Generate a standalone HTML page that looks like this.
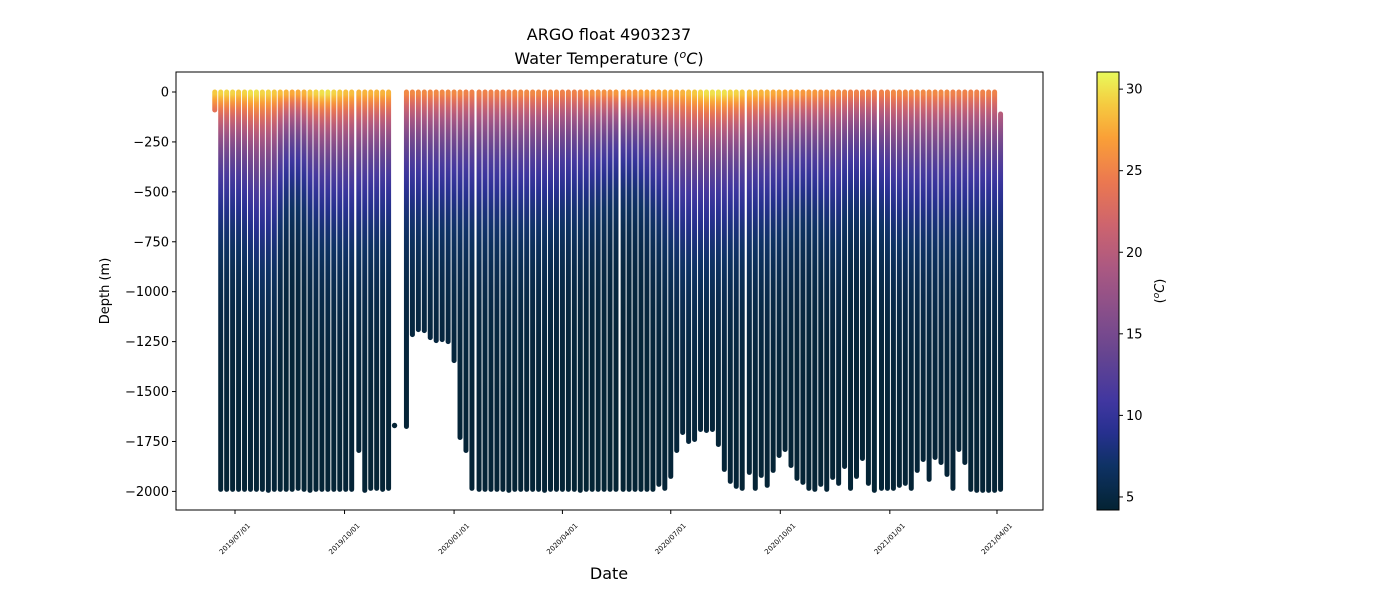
<!DOCTYPE html>
<html><head><meta charset="utf-8"><style>
html,body{margin:0;padding:0;background:#fff;}
svg{display:block;font-family:"DejaVu Sans","Liberation Sans",sans-serif;}
</style></head><body>
<svg id="chart" width="1400" height="600" viewBox="0 0 1400 600" xmlns="http://www.w3.org/2000/svg">
<defs id="defs"><clipPath id="clip"><rect x="176" y="72" width="867" height="438"/></clipPath></defs>
<text x="609" y="40" text-anchor="middle" font-size="16" fill="#000">ARGO float 4903237</text>
<text x="609" y="64" text-anchor="middle" font-size="16" fill="#000">Water Temperature (<tspan font-size="11" dy="-6" font-style="italic">o</tspan><tspan dy="6" font-style="italic">C</tspan>)</text>
<g id="plot" clip-path="url(#clip)"></g>
<g id="axes"></g>
<text transform="translate(109,291) rotate(-90)" text-anchor="middle" font-size="13" fill="#000">Depth (m)</text>
<text x="609" y="579" text-anchor="middle" font-size="16" fill="#000">Date</text>
<g id="cbar"></g>
<text transform="translate(1164,291) rotate(-90)" text-anchor="middle" font-size="13" fill="#000">(<tspan font-style="italic" font-size="9" dy="-5">o</tspan><tspan font-style="italic" dy="5">C</tspan>)</text>
</svg>
<script>
// ---- data (days since 2019-07-01) ----
const profileDays = [
-17,-12,-7,-2,3,8,13,18,23,28,
33,38,43,48,53,58,63,68,73,78,
83,88,93,98,104,109,114,119,124,129,
134,
144,149,154,159,164,169,174,179,184,189,
194,199,205,210,215,220,225,230,235,240,
245,250,255,260,265,270,275,280,285,290,
295,300,305,310,315,320,326,331,336,341,
346,351,356,361,366,371,376,381,386,391,
396,401,406,411,416,421,426,432,437,442,
447,452,457,462,467,472,477,482,487,492,
497,502,507,512,517,522,527,532,537,543,
548,553,558,563,568,573,578,583,588,593,
598,603,608,613,618,623,628,633,638,643];
const topDepths = [
0,0,0,0,0,0,0,0,0,0,
0,0,0,0,0,0,0,0,0,0,
0,0,0,0,0,0,0,0,0,0,
-1670,
0,0,0,0,0,0,0,0,0,0,
0,0,0,0,0,0,0,0,0,0,
0,0,0,0,0,0,0,0,0,0,
0,0,0,0,0,0,0,0,0,0,
0,0,0,0,0,0,0,0,0,0,
0,0,0,0,0,0,0,0,0,0,
0,0,0,0,0,0,0,0,0,0,
0,0,0,0,0,0,0,0,0,0,
0,0,0,0,0,0,0,0,0,0,
0,0,0,0,0,0,0,0,0,-110];
const maxDepths = [
-90,-1990,-1990,-1990,-1990,-1990,-1990,-1990,-1990,-1995,
-1990,-1990,-1990,-1990,-1985,-1990,-1995,-1990,-1990,-1990,
-1990,-1990,-1990,-1990,-1795,-1995,-1985,-1985,-1990,-1985,
-1670,
-1675,-1215,-1190,-1195,-1230,-1245,-1240,-1250,-1345,-1730,
-1795,-1985,-1990,-1990,-1990,-1990,-1990,-1995,-1990,-1990,
-1990,-1990,-1990,-1995,-1990,-1990,-1990,-1990,-1990,-1995,
-1990,-1990,-1990,-1990,-1990,-1990,-1990,-1990,-1990,-1990,
-1990,-1990,-1965,-1985,-1925,-1795,-1705,-1750,-1740,-1690,
-1695,-1690,-1765,-1890,-1950,-1975,-1985,-1905,-1985,-1920,
-1970,-1895,-1820,-1790,-1870,-1935,-1955,-1985,-1990,-1965,
-1990,-1930,-1960,-1875,-1985,-1925,-1835,-1960,-1995,-1985,
-1985,-1985,-1970,-1960,-1985,-1895,-1840,-1940,-1830,-1855,
-1915,-1985,-1790,-1855,-1990,-1995,-1995,-1995,-1995,-1990];
const surfaceTemps = [
29,29.5,29.5,29.5,29,29.5,30,30,29.5,29.5,
29,28.5,28,27.5,27.5,28,29,29.5,30,30,
29.5,29,28.5,28.5,28,28,28,28,28,28,
5,
25.5,25.5,25.5,25.5,25.5,25.5,25.5,25.5,25.5,25.5,
25,25,25,25,25,25,25,25,25.5,25.5,
25.5,25.5,25.5,25.5,25.5,25.5,25,25,25,25,
26,26,26,26,26,26.5,26.5,26.5,26.5,27,
27,27,27,27.5,27.5,27.5,28,28.5,29,29.5,
30,30,30,30,29.5,29.5,29,28.5,28.5,28,
28,27.5,27.5,27,27,27,26.5,26.5,26.5,26,
26,26,25.5,25.5,25,25,25,25,25,25,
25,25.5,25.5,25.5,25.5,25.5,25.5,25.5,25.5,25.5,
25.5,25,25,25,25,25,25,25,25,25];
const decayDepths = [
330,330,330,330,340,350,380,400,400,390,
380,310,270,260,260,280,310,320,330,330,
340,350,360,360,350,350,340,340,340,340,
300,
330,330,330,330,330,330,330,330,330,330,
340,340,340,340,340,340,340,340,340,340,
340,330,330,330,330,320,320,310,310,310,
300,290,280,270,260,250,250,250,250,260,
280,300,320,340,360,380,390,390,390,380,
380,370,360,360,350,350,350,350,340,340,
340,330,330,320,310,300,300,300,310,320,
330,340,350,300,300,300,300,300,300,320,
340,360,360,360,360,360,360,360,360,360,
360,360,360,360,360,360,360,360,360,360];
const yTicks = [0,-250,-500,-750,-1000,-1250,-1500,-1750,-2000];
const xTickDays = [0,92,184,275,366,458,550,640];
const xTickLabels = ["2019/07/01","2019/10/01","2020/01/01","2020/04/01","2020/07/01","2020/10/01","2021/01/01","2021/04/01"];
const cbarTicks = [5,10,15,20,25,30];

// ---- scales ----
const PX0=176, PX1=1043, PY0=72, PY1=510;
const X = d => 235 + d*1.1906;
const Y = z => 92 - z*0.1997;
const TMIN=4.2, TMAX=31.05;
const stops=[[0,4,35,51],[0.1,14,50,100],[0.18,40,48,145],[0.25,65,55,160],[0.35,100,68,145],[0.45,135,78,138],[0.55,170,88,130],[0.65,205,100,110],[0.75,235,120,80],[0.85,250,160,55],[0.93,245,205,65],[1,232,250,91]];
function cmap(t){
  let f=(t-TMIN)/(TMAX-TMIN); if(!isFinite(f)) f=0; f=Math.max(0,Math.min(1,f));
  for(let i=1;i<stops.length;i++){ if(f<=stops[i][0]){ const a=stops[i-1],b=stops[i],u=(f-a[0])/(b[0]-a[0]);
    return `rgb(${Math.round(a[1]+u*(b[1]-a[1]))},${Math.round(a[2]+u*(b[2]-a[2]))},${Math.round(a[3]+u*(b[3]-a[3]))})`; } }
  return 'rgb(232,250,91)';
}
function tempAt(i,z){ const d=Math.max(0,-z-10); return 4.3+(surfaceTemps[i]-4.3)*Math.exp(-d/decayDepths[i]); }

const NS='http://www.w3.org/2000/svg';
function mk(tag,attrs,parent){ const e=document.createElementNS(NS,tag); for(const k in attrs) e.setAttribute(k,attrs[k]); parent.appendChild(e); return e; }
const defs=document.getElementById('defs'), plot=document.getElementById('plot'), axes=document.getElementById('axes'), cbar=document.getElementById('cbar');

// profiles
for(let i=0;i<profileDays.length;i++){
  const x=X(profileDays[i]), y0=Y(topDepths[i]), y1=Y(maxDepths[i]);
  if(Math.abs(y1-y0)<1){
    const c=mk('circle',{cx:x,cy:y0,r:2.7,fill:cmap(tempAt(i,maxDepths[i]))},plot);
    
    
    continue;
  }
  const g=mk('linearGradient',{id:'g'+i,gradientUnits:'userSpaceOnUse',x1:x,y1:y0,x2:x,y2:y1},defs);
  const n=24;
  for(let k=0;k<=n;k++){
    const fz=(k/n)*(k/n);
    const z=topDepths[i]+(maxDepths[i]-topDepths[i])*fz;
    mk('stop',{offset:fz,'stop-color':cmap(tempAt(i,z))},g);
  }
  const l=mk('line',{x1:x,y1:y0,x2:x,y2:y1,stroke:`url(#g${i})`,'stroke-width':5,'stroke-linecap':'round'},plot);
  
  
}

// frame
const fr=mk('rect',{x:PX0,y:PY0,width:PX1-PX0,height:PY1-PY0,fill:'none',stroke:'#000','stroke-width':1},axes);


yTicks.forEach(v=>{
  const y=Y(v);
  mk('line',{x1:PX0-4,y1:y,x2:PX0,y2:y,stroke:'#000'},axes);
  const t=mk('text',{x:PX0-7,y:y+4.5,'text-anchor':'end','font-size':13,fill:'#000'},axes);
  t.textContent=(v<0?'\u2212'+(-v):String(v));
  
  
});
xTickDays.forEach((d,i)=>{
  const x=X(d);
  mk('line',{x1:x,y1:PY1,x2:x,y2:PY1+4,stroke:'#000'},axes);
  const t=mk('text',{x:x,y:539,'text-anchor':'middle','dominant-baseline':'central','font-size':7,fill:'#000',transform:`rotate(-45 ${x} 539)`},axes);
  t.textContent=xTickLabels[i];
  
  
});

// colorbar
const CX0=1097, CX1=1119, CY0=72, CY1=510;
const CY = t => CY1 - (t-TMIN)/(TMAX-TMIN)*(CY1-CY0);
const cg=mk('linearGradient',{id:'cbg',x1:0,y1:1,x2:0,y2:0},defs);
for(let k=0;k<=40;k++){ mk('stop',{offset:k/40,'stop-color':cmap(TMIN+(TMAX-TMIN)*k/40)},cg); }
mk('rect',{x:CX0,y:CY0,width:CX1-CX0,height:CY1-CY0,fill:'url(#cbg)',stroke:'#000','stroke-width':1},cbar);
cbarTicks.forEach(v=>{
  const y=CY(v);
  mk('line',{x1:CX1,y1:y,x2:CX1+4,y2:y,stroke:'#000'},cbar);
  const t=mk('text',{x:CX1+7,y:y+4.5,'font-size':13,fill:'#000'},cbar);
  t.textContent=String(v);
  
  
});
</script>
</body></html>
